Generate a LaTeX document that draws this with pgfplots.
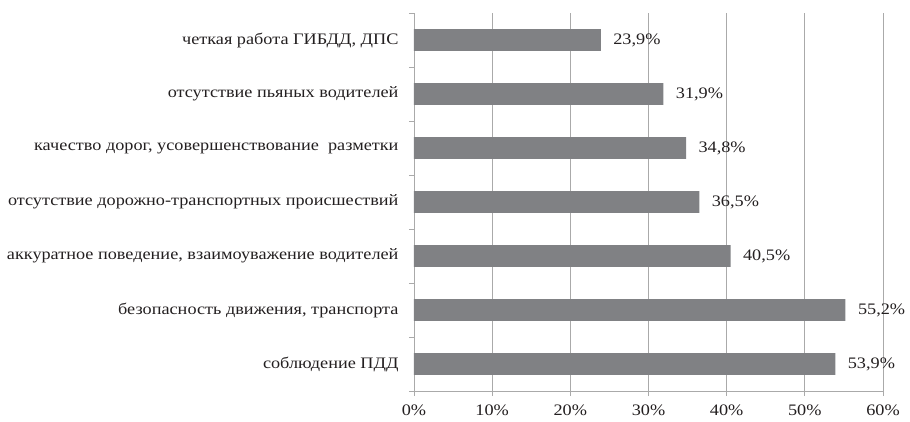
\documentclass[border=0pt]{standalone}
\usepackage{pgfplots}
\pgfplotsset{compat=1.18}
\usepackage{fontspec}
\setmainfont{Liberation Serif}[FakeStretch=1.14]
\definecolor{barc}{RGB}{128,129,132}
\definecolor{gridc}{RGB}{170,170,170}
\definecolor{txt}{RGB}{35,31,32}
\begin{document}
\begin{tikzpicture}[x=1pt,y=1pt]
\path[use as bounding box] (0,0) rectangle (910,421);
\begin{axis}[
  at={(414pt,30pt)}, anchor=south west,
  scale only axis, width=469pt, height=378pt,
  xbar, bar width=21.7pt,
  xmin=0, xmax=60, ymin=-0.5, ymax=6.5,
  xtick={0,10,...,60},
  ytick={0,...,6},
  yticklabels={соблюдение ПДД, {безопасность движения, транспорта}, {аккуратное поведение, взаимоуважение водителей}, отсутствие дорожно-транспортных происшествий, {качество дорог, усовершенствование\ \ разметки}, отсутствие пьяных водителей, {четкая работа ГИБДД, ДПС}},
  minor ytick={-0.5,0.5,...,6.5},
  axis x line*=bottom, axis y line*=left,
  axis line style={gridc, line width=0.8pt, -},
  xmajorgrids, major grid style={gridc, line width=0.8pt},
  tick align=outside,
  major tick length=5pt, minor tick length=5pt,
  major y tick style={draw=none},
  minor y tick style={gridc, line width=0.8pt},
  major x tick style={gridc, line width=0.8pt},
  /pgf/number format/assume math mode=true,
  xticklabel={\pgfmathprintnumber{\tick}\%},
  tick label style={font=\fontsize{16pt}{19pt}\selectfont, text=txt},
  yticklabel style={xshift=-7pt},
  xticklabel style={yshift=-5pt},
  point meta=x,
  nodes near coords={\pgfmathprintnumber[fixed,fixed zerofill,precision=1,use comma]{\pgfplotspointmeta}\%},
  nodes near coords style={anchor=west, xshift=9pt, font=\fontsize{16pt}{19pt}\selectfont, text=txt},
  clip=false,
]
\addplot[fill=barc, draw=none] coordinates {
  (53.9,0) (55.2,1) (40.5,2) (36.5,3) (34.8,4) (31.9,5) (23.9,6)
};
\end{axis}
\end{tikzpicture}
\end{document}
